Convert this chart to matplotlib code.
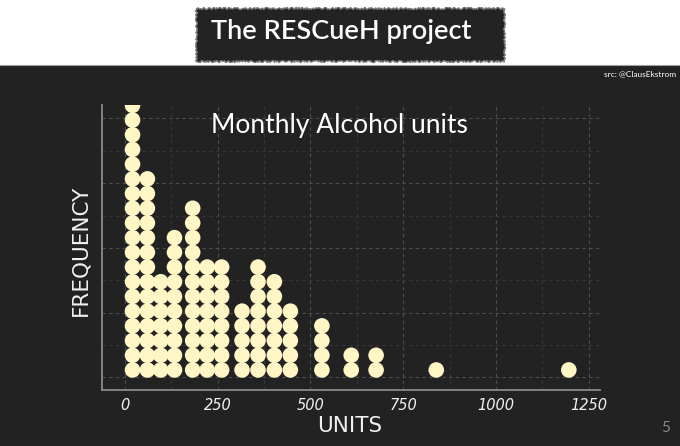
import matplotlib
matplotlib.use("Agg")
import matplotlib.pyplot as plt
from matplotlib.patches import Rectangle
from matplotlib.lines import Line2D
import numpy as np

# ---- data ----
unit_bins = [21, 61, 97, 134, 183, 222, 261, 316, 359, 403, 446, 531, 610, 677, 839, 1196]
bin_counts = [19, 14, 7, 10, 12, 8, 8, 5, 8, 7, 5, 4, 2, 2, 1, 1]
x_ticks = [0, 250, 500, 750, 1000, 1250]
x_tick_labels = ["0", "250", "500", "750", "1000", "1250"]

title_top = "The RESCueH project"
chart_title = "Monthly Alcohol units"
source_text = "src: @ClausEkstrom"
page_number = "5"

# ---- style ----
W, H, DPI = 680, 446, 100
BG = "#222222"
DOT = "#FFF6C6"
STEP_PX = 14.7      # vertical stacking distance
DOT_PX = 15.6       # drawn dot diameter (dots touch / slightly overlap)

fig = plt.figure(figsize=(W / DPI, H / DPI), dpi=DPI, facecolor="white")

# dark slide panel
fig.patches.append(Rectangle((0, 0), 1, (H - 64.5) / H, transform=fig.transFigure,
                             facecolor=BG, edgecolor="none", zorder=-3))
fig.lines.append(Line2D([0, 1], [(H - 64.5) / H] * 2, transform=fig.transFigure,
                        color="#a0a0a0", linewidth=0.8, zorder=-2))

# torn-paper label
lab = Rectangle((196 / W, 1 - 61 / H), (504 - 196) / W, (61 - 8) / H,
                transform=fig.transFigure, facecolor="#232323", edgecolor="#777777",
                linewidth=1.0, zorder=-1)
lab.set_sketch_params(scale=0.9, length=3, randomness=6)
fig.patches.append(lab)
fig.text(341 / W, 1 - 32 / H, title_top, color="white", fontsize=19.5, family="Lato",
         fontweight="semibold", ha="center", va="center", zorder=2)

fig.text(676 / W, 1 - 74 / H, source_text, color="white", fontsize=6,
         family="Lato", ha="right", va="center")
fig.text(666 / W, 1 - 428 / H, page_number, color="#8a8a8a", fontsize=11,
         family="Lato", ha="center", va="center")

# axes
left, right, top, bottom = 101.7, 600, 105, 390
ax = fig.add_axes([left / W, 1 - bottom / H, (right - left) / W, (bottom - top) / H])
ax.set_zorder(1)
ax.set_facecolor(BG)
ylo, yhi = -0.049, 1.052
ax.set_xlim(-62, 1280)
ax.set_ylim(ylo, yhi)

step = STEP_PX / ((bottom - top) / (yhi - ylo))
xs, ys = [], []
for xv, c in zip(unit_bins, bin_counts):
    for k in range(c):
        xs.append(xv)
        ys.append((k + 0.5) * step)
s = (DOT_PX * 72 / DPI) ** 2
ax.scatter(xs, ys, s=s, color=DOT, edgecolors="none", zorder=3)

# grid
ax.set_xticks(x_ticks)
ax.set_xticklabels(x_tick_labels)
ax.set_xticks([125, 375, 625, 875, 1125], minor=True)
ax.set_yticks([0, 0.25, 0.5, 0.75, 1.0])
ax.set_yticks([0.125, 0.375, 0.625, 0.875], minor=True)
ax.grid(True, which="major", color="#4e4e4e", linestyle=(0, (3, 3)), linewidth=0.8)
ax.grid(True, which="minor", color="#363636", linestyle=(0, (3, 3)), linewidth=0.8)
ax.set_axisbelow(True)
ax.tick_params(which="both", length=0)
ax.tick_params(axis="x", colors="#f0f0f0", labelsize=10.5, pad=6)
ax.set_yticklabels([])
for lbl in ax.get_xticklabels():
    lbl.set_family("DejaVu Sans")
    lbl.set_style("italic")

for sp in ["top", "right"]:
    ax.spines[sp].set_visible(False)
for sp in ["left", "bottom"]:
    ax.spines[sp].set_color("#8a8a8a")
    ax.spines[sp].set_linewidth(1.3)

ax.text((339 - left) / (right - left), 1 - (125 - top) / (bottom - top), chart_title,
        transform=ax.transAxes, color="white", fontsize=19, family="Lato",
        ha="center", va="center")
ax.set_xlabel("UNITS", color="#f0f0f0", fontsize=15.5, labelpad=2)
ax.set_ylabel("FREQUENCY", color="#f0f0f0", fontsize=15.5, labelpad=4)
ax.xaxis.set_label_coords((350 - left) / (right - left), -(416 - bottom) / (bottom - top))
ax.yaxis.set_label_coords(-(left - 90) / (right - left), 1 - (250 - top) / (bottom - top))

fig.savefig("out.png", dpi=DPI, facecolor=fig.get_facecolor())
